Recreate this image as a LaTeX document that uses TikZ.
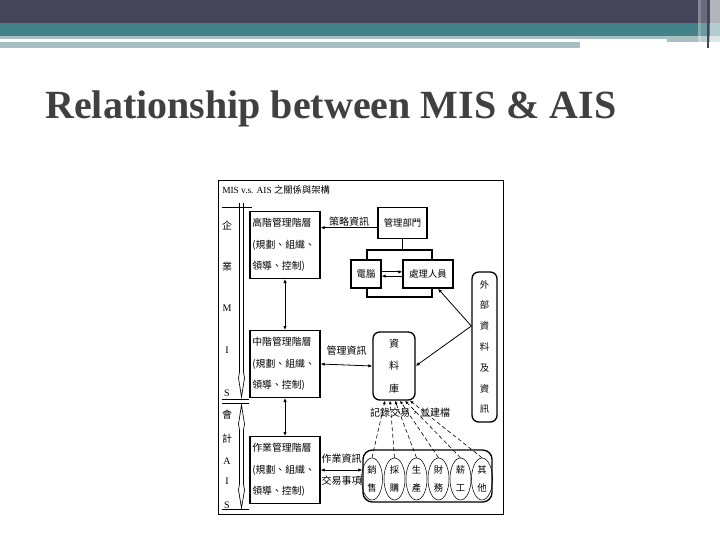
\documentclass[tikz,border=0pt]{standalone}
\usepackage{fontspec}
\setmainfont{Liberation Serif}
\newfontfamily\cjk{Noto Sans CJK TC}
\usetikzlibrary{shapes,arrows.meta,positioning,fit,backgrounds,calc}
\definecolor{bardark}{HTML}{45455A}
\definecolor{barteal}{HTML}{44828A}
\definecolor{barlight}{HTML}{A9C0C3}
\definecolor{titlegray}{HTML}{404040}

\begin{document}
\begin{tikzpicture}[
    x=0.75pt, y=-0.75pt,
    mgr/.style={rectangle, draw, line width=1pt, fill=white, minimum width=52.5pt, minimum height=50pt, text width=49pt, align=left, inner sep=1.5pt, font=\cjk\fontsize{7.4}{16}\selectfont},
    unitbox/.style={rectangle, draw, line width=1pt, fill=white, minimum height=21pt, inner sep=1pt, font=\cjk\fontsize{7}{8}\selectfont},
    store/.style={rectangle, draw, line width=1pt, rounded corners=#1, fill=white, inner sep=0pt, align=center},
    dept/.style={ellipse, draw, line width=0.4pt, minimum width=15.75pt, minimum height=31.5pt, inner sep=0pt, align=center, font=\cjk\fontsize{7}{13.5}\selectfont},
    lbl/.style={inner sep=1pt, font=\cjk\fontsize{7.5}{9}\selectfont},
    side/.style={inner sep=0pt, font=\fontsize{7.5}{9}\selectfont},
    arrow/.style={-{Latex[length=3pt,width=2.6pt]}, line width=0.6pt},
    twoway/.style={{Latex[length=3pt,width=2.6pt]}-{Latex[length=3pt,width=2.6pt]}, line width=0.6pt},
    feed/.style={-{Latex[length=2.6pt,width=2.2pt]}, line width=0.45pt, densely dashed}
]
    \useasboundingbox (0,0) rectangle (720,540);

    % slide banner
    \fill[bardark] (0,0) rectangle (720,23);
    \fill[barteal] (0,23) rectangle (720,36);
    \fill[barlight] (0,36) rectangle (720,48);
    \fill[white] (0,39) rectangle (667,42);
    \fill[white] (580,42) rectangle (720,48);
    \fill[white, opacity=0.35] (698,0) rectangle (701,46);
    \fill[white, opacity=0.2] (701,0) rectangle (707,46);
    \fill[white, opacity=0.6] (710,0) rectangle (720,46);
    \draw[bardark, line width=0.8pt] (708,0) -- (708,48);

    \node[anchor=base west, inner sep=0pt, text=titlegray, font=\fontsize{30}{33}\bfseries] (title) at (45,118) {Relationship between MIS \& AIS};

    % diagram frame
    \draw[line width=0.7pt] (218,180) rectangle (503,514);
    \node[anchor=west, inner sep=0pt, font=\fontsize{7}{8}\selectfont] (dtitle) at (222,190) {MIS v.s. AIS {\cjk 之關係與架構}};

    % MIS / AIS scale
    \draw[line width=0.6pt] (222,207) -- (252,207);
    \draw[line width=0.6pt] (222,399) -- (249,399);
    \draw[line width=0.6pt] (222,403) -- (249,403);
    \draw[line width=0.6pt] (222,509) -- (249,509);
    \draw[line width=0.5pt] (239.5,203) -- (239.5,372) -- (238.5,378) -- (241.5,397) -- (244.5,378) -- (243.5,372) -- (243.5,203);
    \draw[line width=0.5pt] (241.5,405) -- (238.5,424) -- (239.5,430) -- (239.5,484) -- (238.5,490) -- (241.5,508) -- (244.5,490) -- (243.5,484) -- (243.5,430) -- (244.5,424) -- cycle;
    \node[side, font=\cjk\fontsize{7.5}{9}\selectfont] (qi) at (227,226) {企};
    \node[side, font=\cjk\fontsize{7.5}{9}\selectfont] (ye) at (227,267) {業};
    \node[side] (m1) at (227,308) {M};
    \node[side] (i1) at (227,350) {I};
    \node[side] (s1) at (227,393) {S};
    \node[side, font=\cjk\fontsize{7.5}{9}\selectfont] (hui) at (227,415) {會};
    \node[side, font=\cjk\fontsize{7.5}{9}\selectfont] (ji) at (227,439) {計};
    \node[side] (a2) at (227,461) {A};
    \node[side] (i2) at (227,481) {I};
    \node[side] (s2) at (227,505) {S};

    % information unit
    \draw[line width=0.8pt] (367,250) rectangle (432,297);
    \node[unitbox, minimum width=36.75pt, minimum height=23pt] (infodept) at (402.5,223) {管理部門};
    \node[unitbox, minimum width=22.5pt] (comp) at (366,274) {電腦};
    \node[unitbox, minimum width=37.5pt] (staff) at (428,274) {處理人員};
    \draw[line width=0.8pt] (infodept.south) -- (infodept.south |- 367,250);

    % management levels
    \node[mgr] (top) at (285,245) {高階管理階層\\(規劃、組織、\\領導、控制)};
    \node[mgr] (mid) at (285,364) {中階管理階層\\(規劃、組織、\\領導、控制)};
    \node[mgr] (ops) at (285,470) {作業管理階層\\(規劃、組織、\\領導、控制)};

    % data stores
    \node[store=5pt, minimum width=31.5pt, minimum height=51pt, font=\cjk\fontsize{7.5}{16.9}\selectfont] (db) at (394,366) {資\\料\\庫};
    \node[store=5pt, minimum width=18.75pt, minimum height=112.5pt, font=\cjk\fontsize{7}{15.6}\selectfont] (ext) at (484.5,347) {外\\部\\資\\料\\及\\資\\訊};
    \node[store=7pt, minimum width=96.75pt, minimum height=39pt] (cycles) at (427.5,476) {};

    % business cycles
    \node[dept] (sales) at (372,479) {銷\\售};
    \node[dept] (purch) at (394.5,479) {採\\購};
    \node[dept] (prod) at (416.5,479) {生\\產};
    \node[dept] (fin) at (438.5,479) {財\\務};
    \node[dept] (pay) at (460.5,479) {薪\\工};
    \node[dept] (other) at (482,479) {其\\他};

    % flows
    \draw[arrow] ([yshift=-3.5pt]infodept.west) -- node[lbl, above] {策略資訊} ([yshift=-3.5pt]infodept.west -| top.east);
    \draw[arrow] ([yshift=1.6pt]comp.east) -- ([yshift=1.6pt]staff.west);
    \draw[arrow] ([yshift=-1.6pt]staff.west) -- ([yshift=-1.6pt]comp.east);
    \draw[twoway] (top.south) -- (mid.north);
    \draw[twoway] (mid.south) -- (ops.north);
    \draw[twoway] (mid.east) -- node[lbl, above=6pt] {管理資訊} (db.west);
    \draw[twoway] (ops.east) -- node[lbl, above=4pt] {作業資訊} node[lbl, below=3pt] {交易事項} (ops.east -| cycles.west);

    \coordinate (extpt) at ([yshift=15.75pt]ext.west);
    \draw[arrow] (extpt) -- ([xshift=7.5pt]staff.south);
    \draw[arrow] (extpt) -- (db.east);

    \foreach \dname/\dx in {sales/-6.75, purch/-3, prod/0.75, fin/4.5, pay/8.25, other/12}
        \draw[feed] (\dname.north) -- ([xshift=\dx pt]db.south);
    \node[lbl] (record) at (410,413) {記錄交易，並建檔};
\end{tikzpicture}
\end{document}
